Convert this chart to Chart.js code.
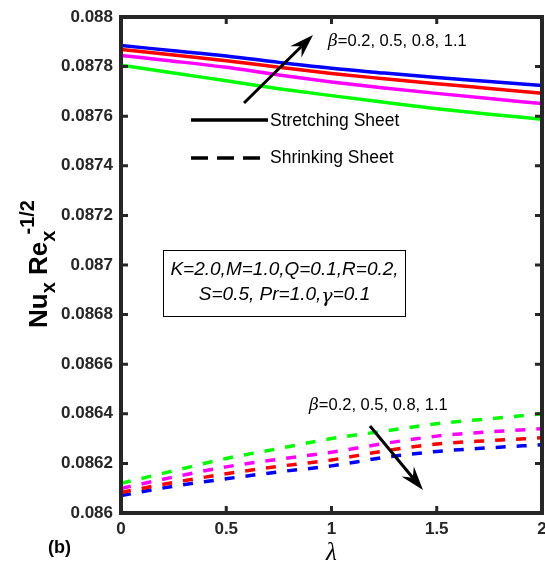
<!DOCTYPE html>
<html>
<head>
<meta charset="utf-8">
<script src="https://cdn.jsdelivr.net/npm/chart.js@4/dist/chart.umd.min.js"></script>
<style>
  html, body { margin: 0; padding: 0; background: #ffffff; }
  #wrap { width: 545px; height: 573px; position: relative; }
</style>
</head>
<body>
<div id="wrap"><canvas id="c" width="545" height="573"></canvas></div>
<script>
// lambda values along the x axis
const lambda = [0, 0.25, 0.5, 0.75, 1, 1.25, 1.5, 1.75, 2];

// Stretching sheet (solid), beta = 0.2, 0.5, 0.8, 1.1
const stretchBeta02 = [0.087806, 0.087774, 0.087743, 0.087711, 0.087683, 0.087656, 0.087630, 0.087608, 0.087588];
const stretchBeta05 = [0.087845, 0.087822, 0.087797, 0.087766, 0.087738, 0.087714, 0.087692, 0.087671, 0.087651];
const stretchBeta08 = [0.087869, 0.087847, 0.087824, 0.087797, 0.087772, 0.087751, 0.087731, 0.087712, 0.087693];
const stretchBeta11 = [0.087885, 0.087864, 0.087843, 0.087817, 0.087793, 0.087774, 0.087756, 0.087740, 0.087724];

// Shrinking sheet (dashed), beta = 0.2, 0.5, 0.8, 1.1
const shrinkBeta02 = [0.086120, 0.086170, 0.086220, 0.086260, 0.086300, 0.086330, 0.086360, 0.086380, 0.086400];
const shrinkBeta05 = [0.086099, 0.086145, 0.086186, 0.086217, 0.086245, 0.086280, 0.086310, 0.086327, 0.086340];
const shrinkBeta08 = [0.086083, 0.086123, 0.086158, 0.086188, 0.086214, 0.086250, 0.086278, 0.086292, 0.086303];
const shrinkBeta11 = [0.086070, 0.086108, 0.086138, 0.086166, 0.086190, 0.086224, 0.086248, 0.086263, 0.086275];

// Tick labels
const xTicks = [0, 0.5, 1, 1.5, 2];
const xTickLabels = ['0', '0.5', '1', '1.5', '2'];
const yTicks = [0.086, 0.0862, 0.0864, 0.0866, 0.0868, 0.087, 0.0872, 0.0874, 0.0876, 0.0878, 0.088];
const yTickLabels = ['0.086', '0.0862', '0.0864', '0.0866', '0.0868', '0.087', '0.0872', '0.0874', '0.0876', '0.0878', '0.088'];

const seriesColors = ['#00ff00', '#ff00ff', '#ff0000', '#0000ff'];
const AXIS = '#262626';
const SANS = '"Liberation Sans", Arial, sans-serif';

function pts(ys) { return lambda.map((x, i) => ({ x: x, y: ys[i] })); }

function ds(ys, color, dashed) {
  return {
    data: pts(ys),
    borderColor: color,
    borderWidth: 3.5,
    borderDash: dashed ? [10, 11] : [],
    pointRadius: 0,
    fill: false,
    cubicInterpolationMode: 'monotone'
  };
}

const datasets = [
  ds(stretchBeta02, seriesColors[0], false),
  ds(stretchBeta05, seriesColors[1], false),
  ds(stretchBeta08, seriesColors[2], false),
  ds(stretchBeta11, seriesColors[3], false),
  ds(shrinkBeta02, seriesColors[0], true),
  ds(shrinkBeta05, seriesColors[1], true),
  ds(shrinkBeta08, seriesColors[2], true),
  ds(shrinkBeta11, seriesColors[3], true)
];

function arrow(ctx, x1, y1, x2, y2) {
  const ang = Math.atan2(y2 - y1, x2 - x1);
  const L = 24, W = 8, notch = 16;
  ctx.save();
  ctx.strokeStyle = '#000';
  ctx.fillStyle = '#000';
  ctx.lineWidth = 3;
  ctx.beginPath();
  ctx.moveTo(x1, y1);
  ctx.lineTo(x2 - notch * Math.cos(ang), y2 - notch * Math.sin(ang));
  ctx.stroke();
  ctx.translate(x2, y2);
  ctx.rotate(ang);
  ctx.beginPath();
  ctx.moveTo(0, 0);
  ctx.lineTo(-L, -W);
  ctx.lineTo(-notch, 0);
  ctx.lineTo(-L, W);
  ctx.closePath();
  ctx.fill();
  ctx.restore();
}

function betaLabel(ctx, x, y) {
  ctx.save();
  ctx.fillStyle = '#000';
  ctx.textBaseline = 'middle';
  ctx.textAlign = 'left';
  ctx.font = 'italic 17px "DejaVu Serif", "Liberation Serif", serif';
  ctx.fillText('\u03b2', x, y + 1);
  const w = ctx.measureText('\u03b2').width;
  ctx.font = '16.5px ' + SANS;
  ctx.fillText('=0.2, 0.5, 0.8, 1.1', x + w, y);
  ctx.restore();
}

const decorations = {
  id: 'decorations',
  afterDatasetsDraw(chart) {
    const ctx = chart.ctx;
    const xs = chart.scales.x, ys = chart.scales.y;
    const a = chart.chartArea;

    // Axis box
    ctx.save();
    ctx.strokeStyle = AXIS;
    ctx.lineWidth = 4;
    ctx.strokeRect(a.left, a.top, a.right - a.left, a.bottom - a.top);

    // Inward ticks on all four sides
    ctx.lineWidth = 3;
    const tl = 7;
    xTicks.forEach(v => {
      const px = xs.getPixelForValue(v);
      ctx.beginPath();
      ctx.moveTo(px, a.bottom); ctx.lineTo(px, a.bottom - tl);
      ctx.moveTo(px, a.top); ctx.lineTo(px, a.top + tl);
      ctx.stroke();
    });
    yTicks.forEach(v => {
      const py = ys.getPixelForValue(v);
      ctx.beginPath();
      ctx.moveTo(a.left, py); ctx.lineTo(a.left + tl, py);
      ctx.moveTo(a.right, py); ctx.lineTo(a.right - tl, py);
      ctx.stroke();
    });

    // Tick labels
    ctx.fillStyle = AXIS;
    ctx.font = 'bold 17px ' + SANS;
    ctx.textAlign = 'right';
    ctx.textBaseline = 'middle';
    yTicks.forEach((v, i) => {
      ctx.fillText(yTickLabels[i], a.left - 8, ys.getPixelForValue(v));
    });
    ctx.textAlign = 'center';
    ctx.textBaseline = 'top';
    xTicks.forEach((v, i) => {
      ctx.fillText(xTickLabels[i], xs.getPixelForValue(v), a.bottom + 8);
    });
    ctx.restore();

    // x-axis title
    ctx.save();
    ctx.fillStyle = '#000';
    ctx.font = 'italic 25px "Liberation Serif", serif';
    ctx.textAlign = 'center';
    ctx.textBaseline = 'middle';
    ctx.fillText('\u03bb', (a.left + a.right) / 2, 553);
    ctx.restore();

    // panel label
    ctx.save();
    ctx.fillStyle = '#000';
    ctx.font = 'bold 18px ' + SANS;
    ctx.textAlign = 'left';
    ctx.textBaseline = 'middle';
    ctx.fillText('(b)', 48, 548);
    ctx.restore();

    // y-axis title: Nu_x Re_x^-1/2
    ctx.save();
    ctx.fillStyle = '#000';
    ctx.translate(47, 264);
    ctx.rotate(-Math.PI / 2);
    ctx.textBaseline = 'alphabetic';
    ctx.textAlign = 'left';
    const big = 'bold 26px ' + SANS;
    const small = 'bold 20px ' + SANS;
    const parts = [
      { t: 'Nu', f: big, dy: 0 },
      { t: 'x', f: small, dy: 8 },
      { t: ' Re', f: big, dy: 0 },
      { t: 'x', f: small, dy: 8 },
      { t: '-1/2', f: small, dy: -13 }
    ];
    let total = 0;
    parts.forEach(p => { ctx.font = p.f; p.w = ctx.measureText(p.t).width; total += p.w; });
    // the exponent starts part-way over the last subscript
    const overlap = parts[3].w * 0.35;
    total -= overlap;
    let cx = -total / 2;
    parts.forEach((p, i) => {
      ctx.font = p.f;
      if (i === 4) cx -= overlap;
      ctx.fillText(p.t, cx, p.dy);
      cx += p.w;
    });
    ctx.restore();

    // Legend for line styles
    ctx.save();
    ctx.strokeStyle = '#000';
    ctx.lineWidth = 3.5;
    ctx.beginPath(); ctx.moveTo(191, 120); ctx.lineTo(268, 120); ctx.stroke();
    ctx.setLineDash([17, 9]);
    ctx.beginPath(); ctx.moveTo(191, 158); ctx.lineTo(268, 158); ctx.stroke();
    ctx.setLineDash([]);
    ctx.fillStyle = '#000';
    ctx.font = '17.5px ' + SANS;
    ctx.textAlign = 'left';
    ctx.textBaseline = 'middle';
    ctx.fillText('Stretching Sheet', 270, 121);
    ctx.fillText('Shrinking Sheet', 270, 158);
    ctx.restore();

    // Parameter box
    ctx.save();
    ctx.strokeStyle = '#000';
    ctx.lineWidth = 1;
    ctx.strokeRect(163.5, 250.5, 242, 66);
    ctx.fillStyle = '#000';
    const itf = 'italic 19px ' + SANS;
    const grk = 'italic 19px "DejaVu Serif", serif';
    ctx.font = itf;
    ctx.textAlign = 'center';
    ctx.textBaseline = 'middle';
    ctx.fillText('K=2.0,M=1.0,Q=0.1,R=0.2,', 284.5, 270);
    const l2a = 'S=0.5, Pr=1.0,';
    const wA = ctx.measureText(l2a).width;
    ctx.font = grk;
    const wG = ctx.measureText('\u03b3').width;
    ctx.font = itf;
    const wB = ctx.measureText('=0.1').width;
    let sx = 284.5 - (wA + wG + wB) / 2;
    ctx.textAlign = 'left';
    ctx.fillText(l2a, sx, 295);
    ctx.font = grk;
    ctx.fillText('\u03b3', sx + wA, 297);
    ctx.font = itf;
    ctx.fillText('=0.1', sx + wA + wG, 295);
    ctx.restore();

    // Arrows and beta labels
    arrow(ctx, 244, 103, 313, 35);
    betaLabel(ctx, 328, 41);
    arrow(ctx, 370, 426, 423, 490);
    betaLabel(ctx, 309, 405);
  }
};

new Chart(document.getElementById('c'), {
  type: 'line',
  data: { datasets: datasets },
  options: {
    responsive: false,
    animation: false,
    devicePixelRatio: 1,
    layout: { padding: { left: 121, top: 17, right: 3, bottom: 60 } },
    plugins: { legend: { display: false }, tooltip: { enabled: false } },
    scales: {
      x: { type: 'linear', min: 0, max: 2, display: false },
      y: { type: 'linear', min: 0.086, max: 0.088, display: false }
    }
  },
  plugins: [decorations]
});
</script>
</body>
</html>
